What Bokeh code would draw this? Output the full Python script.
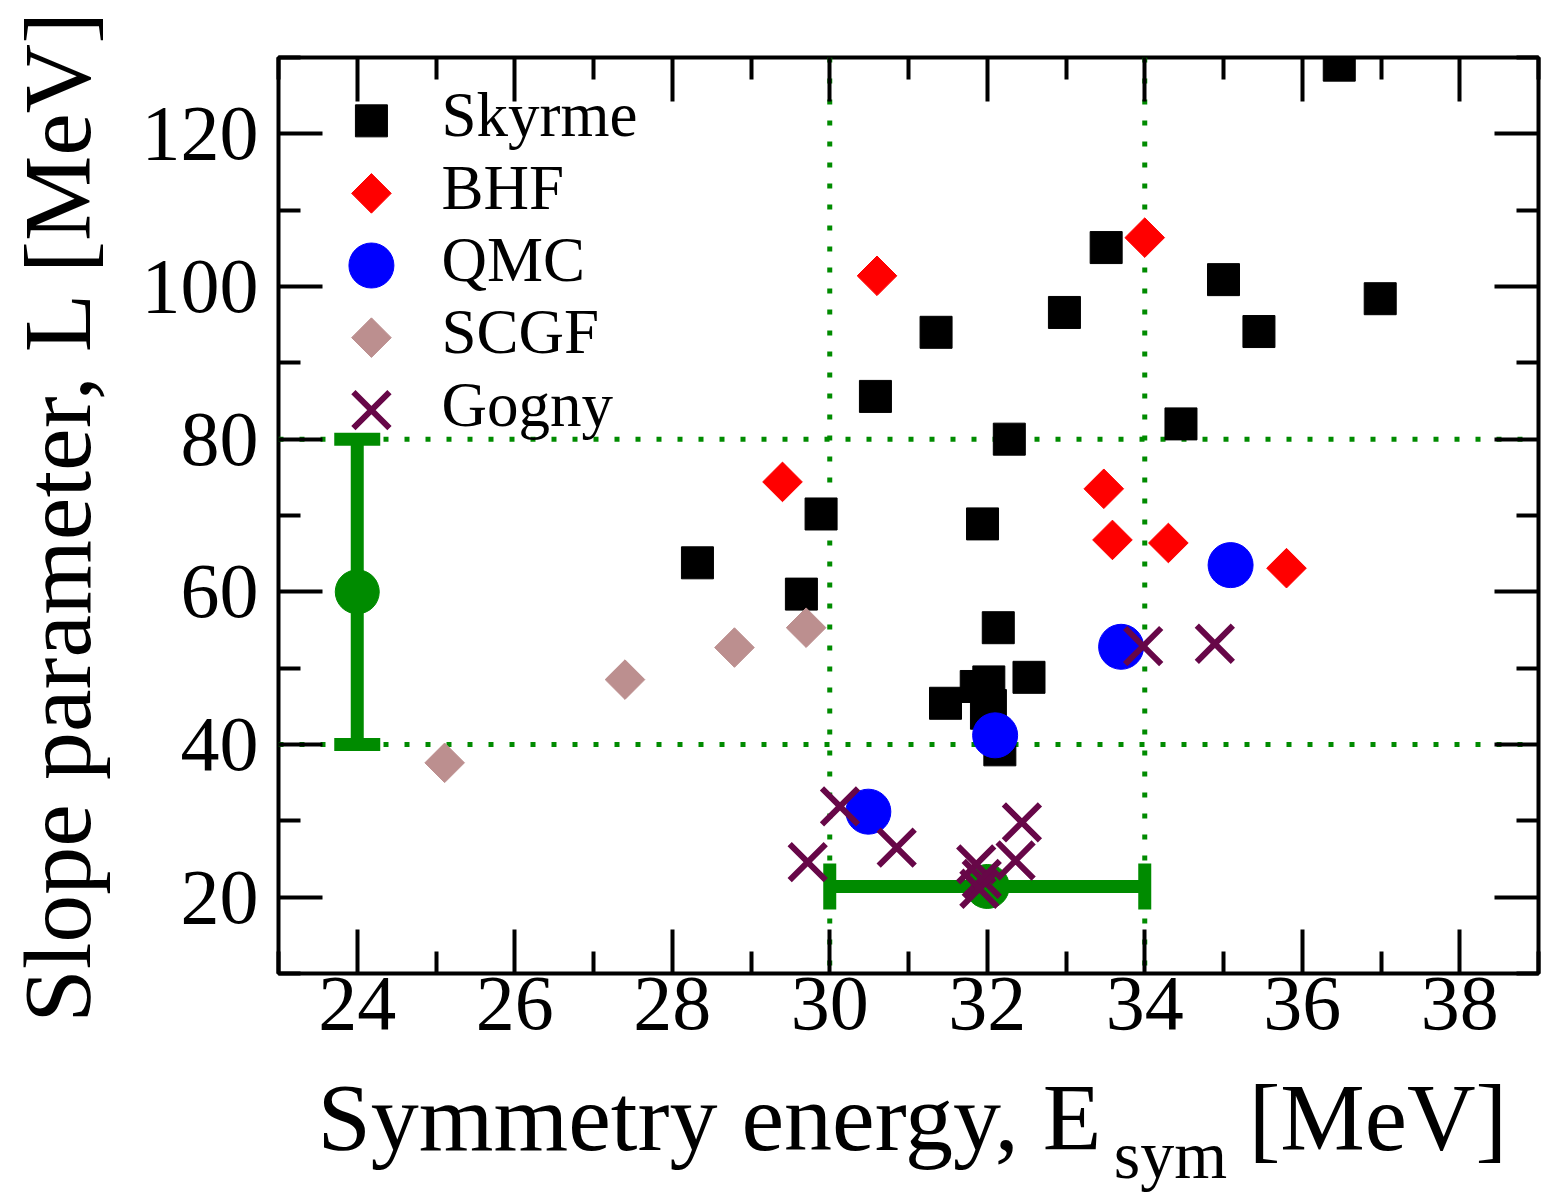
import numpy as np
from bokeh.plotting import figure
from bokeh.layouts import column
from bokeh.models import (FixedTicker, LinearAxis, Span, Whisker, TeeHead,
                          ColumnDataSource, Label, CustomJSTickFormatter, Range1d)
from bokeh.embed import file_html
from bokeh.resources import INLINE

# ---------------- data ----------------
skyrme_esym = [36.47, 33.51, 35.00, 36.99, 32.98, 31.35, 35.45, 30.58, 34.46, 32.28,
               29.89, 31.94, 28.32, 29.64, 32.14, 32.53, 31.47, 31.86, 32.02, 32.04,
               31.99, 32.16]
skyrme_L = [129.0, 105.1, 100.9, 98.4, 96.6, 94.0, 94.1, 85.6, 82.0, 80.0,
            70.2, 68.9, 63.8, 59.7, 55.3, 48.8, 45.4, 47.6, 48.2, 45.1,
            44.1, 39.3]

bhf_esym = [30.60, 34.00, 29.40, 33.48, 33.59, 34.30, 35.80]
bhf_L = [101.4, 106.4, 74.4, 73.5, 66.8, 66.4, 63.1]

qmc_esym = [35.09, 33.70, 32.10, 30.49]
qmc_L = [63.5, 52.8, 41.2, 31.2]

scgf_esym = [25.11, 27.40, 28.79, 29.70]
scgf_L = [37.6, 48.5, 52.7, 55.3]

gogny_esym = [33.98, 34.89, 30.13, 30.85, 29.72, 32.44, 32.36, 31.86, 31.93, 31.90]
gogny_L = [52.9, 53.2, 31.9, 26.5, 24.6, 29.8, 24.8, 24.3, 22.4, 21.1]

# constraints (green)
constraint_esym = [24.0, 32.0]
constraint_L = [60.0, 21.4]
L_band = [40.0, 80.0]        # error on the L constraint, also dotted lines
esym_band = [30.0, 34.0]     # error on the Esym constraint, also dotted lines

series_names = ["Skyrme", "BHF", "QMC", "SCGF", "Gogny"]

x_major = [24, 26, 28, 30, 32, 34, 36, 38]
x_minor = [23, 25, 27, 29, 31, 33, 35, 37, 39]
y_major = [20, 40, 60, 80, 100, 120]
y_minor = [10, 30, 50, 70, 90, 110, 130]

# ---------------- styles ----------------
GREEN = "#008b00"
MAROON = "#670748"
BROWN = "#bc8f8f"
FONT = "Liberation Serif"

xr = Range1d(23, 39)
p = figure(width=1558, height=1064, x_range=xr, y_range=(10, 130),
           output_backend="svg", toolbar_location=None, title=None,
           min_border_left=277, min_border_right=20,
           min_border_top=57, min_border_bottom=91)
p.grid.visible = False
p.outline_line_color = "black"
p.outline_line_width = 4
p.background_fill_color = "white"
p.border_fill_color = "white"


def style_axis(ax, major, minor, labels=True):
    ax.ticker = FixedTicker(ticks=major, minor_ticks=minor)
    ax.axis_line_color = None
    ax.major_tick_in = 44
    ax.major_tick_out = 0
    ax.minor_tick_in = 22
    ax.minor_tick_out = 0
    ax.major_tick_line_width = 4
    ax.minor_tick_line_width = 4
    ax.major_tick_line_color = "black"
    ax.minor_tick_line_color = "black"
    ax.major_label_text_font = FONT
    ax.major_label_text_font_size = "78px"
    ax.major_label_text_color = "black"
    if not labels:
        ax.formatter = CustomJSTickFormatter(code="return ''")


style_axis(p.xaxis[0], x_major, x_minor)
p.xaxis[0].major_label_standoff = 4
style_axis(p.yaxis[0], y_major, y_minor)
p.yaxis[0].major_label_standoff = 20
p.yaxis[0].axis_label = "Slope parameter, L [MeV]"
p.yaxis[0].axis_label_text_font = FONT
p.yaxis[0].axis_label_text_font_size = "96px"
p.yaxis[0].axis_label_text_font_style = "normal"
p.yaxis[0].axis_label_text_color = "black"
p.yaxis[0].axis_label_standoff = 28

top_ax = LinearAxis()
style_axis(top_ax, x_major, x_minor, labels=False)
p.add_layout(top_ax, "above")
right_ax = LinearAxis()
style_axis(right_ax, y_major, y_minor, labels=False)
p.add_layout(right_ax, "right")

# dotted constraint window
for v in esym_band:
    p.add_layout(Span(location=v, dimension="height", line_color=GREEN,
                      line_width=5, line_dash="5 16", level="underlay"))
for v in L_band:
    p.add_layout(Span(location=v, dimension="width", line_color=GREEN,
                      line_width=5, line_dash="5 16", level="underlay"))

# error bars of the constraints
src_v = ColumnDataSource(dict(x=[constraint_esym[0]], lower=[L_band[0]], upper=[L_band[1]]))
src_h = ColumnDataSource(dict(y=[constraint_L[1]], lower=[esym_band[0]], upper=[esym_band[1]]))
for src, base, dim in [(src_v, "x", "height"), (src_h, "y", "width")]:
    p.add_layout(Whisker(source=src, base=base, lower="lower", upper="upper",
                         dimension=dim, line_color=GREEN, line_width=13,
                         upper_head=TeeHead(size=46, line_color=GREEN, line_width=13),
                         lower_head=TeeHead(size=46, line_color=GREEN, line_width=13),
                         level="underlay"))

p.scatter(constraint_esym, constraint_L, marker="circle", size=44,
          fill_color=GREEN, line_color=GREEN)

# data series
styles = {
    "Skyrme": dict(marker="square", size=32, fill_color="black", line_color="black"),
    "BHF": dict(marker="square", angle=np.pi / 4, size=28, fill_color="red", line_color="red"),
    "QMC": dict(marker="circle", size=45, fill_color="blue", line_color="blue"),
    "SCGF": dict(marker="square", angle=np.pi / 4, size=28, fill_color=BROWN, line_color=BROWN),
    "Gogny": dict(marker="x", size=51, line_color=MAROON, line_width=6),
}
data = {
    "Skyrme": (skyrme_esym, skyrme_L),
    "BHF": (bhf_esym, bhf_L),
    "QMC": (qmc_esym, qmc_L),
    "SCGF": (scgf_esym, scgf_L),
    "Gogny": (gogny_esym, gogny_L),
}
for name in series_names:
    xs, ys = data[name]
    p.scatter(xs, ys, **styles[name])

# hand-made legend (keys in the top-left corner)
LEGEND_KEY_X = 24.18
LEGEND_KEY_Y = [121.7, 112.2, 102.75, 93.3, 83.8]
LEGEND_TEXT_X = 163          # screen px from frame left
LEGEND_TEXT_Y = [859, 786, 714, 642, 569]  # screen px from frame bottom
for name, ky, ty in zip(series_names, LEGEND_KEY_Y, LEGEND_TEXT_Y):
    p.scatter([LEGEND_KEY_X], [ky], **styles[name])
    p.add_layout(Label(x=LEGEND_TEXT_X, y=ty, x_units="screen", y_units="screen",
                       text=name, text_font=FONT, text_font_size="63px",
                       text_color="black", text_baseline="alphabetic",
                       text_align="left"))

# x-axis title (with subscript) in a strip below the plot, sharing the x scale
pb = figure(width=1558, height=130, x_range=xr, y_range=(0, 130),
            output_backend="svg", toolbar_location=None, title=None,
            x_axis_location=None, y_axis_location=None,
            min_border_left=277, min_border_right=20,
            min_border_top=0, min_border_bottom=0)
pb.outline_line_color = None
for g in pb.grid:
    g.visible = False
pb.background_fill_color = "white"
pb.border_fill_color = "white"
for txt, lx, ly, fs in [("Symmetry energy, E", 23.495, 77, "96px"),
                        ("sym", 33.607, 40, "68px"),
                        ("[MeV]", 35.32, 77, "95px")]:
    pb.add_layout(Label(x=lx, y=ly, text=txt, text_font=FONT, text_font_size=fs,
                        text_color="black", text_align="left",
                        text_baseline="alphabetic"))

layout = column(p, pb, spacing=0)
open("out.html", "w").write(file_html(layout, INLINE))
